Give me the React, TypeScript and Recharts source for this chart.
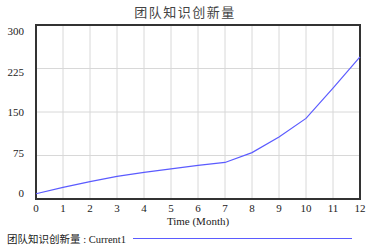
import React from "react";
import {
  LineChart,
  Line,
  XAxis,
  YAxis,
  CartesianGrid,
  ReferenceArea,
} from "recharts";

const months = [0, 1, 2, 3, 4, 5, 6, 7, 8, 9, 10, 11, 12];
const knowledge = [9, 20, 30, 39, 46, 52, 58, 63, 80, 107, 139, 191, 245];
const yTicks = [0, 75, 150, 225, 300];
const title = "团队知识创新量";
const seriesName = "团队知识创新量";
const runName = " : Current1";
const xLabel = "Time (Month)";

const data = months.map((m, i) => ({ t: m, v: knowledge[i] }));

const serif = "Liberation Serif, DejaVu Serif, serif";
const cjk = "Noto Sans CJK SC, sans-serif";

const YTick = (props: any) => {
  const { x, y, payload } = props;
  const shift = ((payload.value - 150) / 150) * 6;
  return (
    <text
      x={x}
      y={y + shift}
      dy={4}
      textAnchor="end"
      fontFamily={serif}
      fontSize={11}
      fill="#222"
    >
      {payload.value}
    </text>
  );
};

const XTick = (props: any) => {
  const { x, y, payload } = props;
  return (
    <text
      x={x}
      y={y}
      dy={5}
      textAnchor="middle"
      fontFamily={serif}
      fontSize={11}
      fill="#222"
    >
      {payload.value}
    </text>
  );
};

export default function App() {
  return (
    <div
      style={{
        position: "absolute",
        left: 0,
        top: 0,
        width: 370,
        height: 247,
        background: "#fff",
      }}
    >
      <div
        style={{
          position: "absolute",
          left: 0,
          top: 2,
          width: 370,
          textAlign: "center",
          fontFamily: cjk,
          fontSize: 13,
          letterSpacing: 1.5,
          color: "#444",
        }}
      >
        {title}
      </div>
      <LineChart
        width={370}
        height={247}
        data={data}
        margin={{ top: 25, right: 10, bottom: 20, left: 0 }}
      >
        <CartesianGrid
          stroke="#d8d8d8"
          strokeWidth={1}
          verticalValues={months}
          horizontalValues={yTicks}
        />
        <XAxis
          dataKey="t"
          type="number"
          domain={[0, 12]}
          ticks={months}
          interval={0}
          tickLine={false}
          axisLine={false}
          height={28}
          tick={<XTick />}
        />
        <YAxis
          type="number"
          domain={[0, 300]}
          ticks={yTicks}
          interval={0}
          tickLine={false}
          axisLine={false}
          width={36}
          tick={<YTick />}
          tickMargin={6}
        />
        <ReferenceArea
          x1={0}
          x2={12}
          y1={0}
          y2={300}
          fill="none"
          stroke="#333"
          strokeWidth={2}
          fillOpacity={0}
          ifOverflow="visible"
        />
        <Line
          type="linear"
          dataKey="v"
          stroke="#5b5bff"
          strokeWidth={1.2}
          dot={false}
          isAnimationActive={false}
        />
      </LineChart>
      <div
        style={{
          position: "absolute",
          left: 36,
          top: 215,
          width: 324,
          textAlign: "center",
          fontFamily: serif,
          fontSize: 11,
          color: "#222",
        }}
      >
        {xLabel}
      </div>
      <div
        style={{
          position: "absolute",
          left: 7,
          top: 231,
          fontSize: 10.5,
          color: "#222",
          whiteSpace: "nowrap",
        }}
      >
        <span style={{ fontFamily: cjk }}>{seriesName}</span>
        <span style={{ fontFamily: serif }}>{runName}</span>
      </div>
      <div
        style={{
          position: "absolute",
          left: 133,
          top: 238,
          width: 219,
          height: 1,
          background: "#5b5bff",
        }}
      />
    </div>
  );
}
